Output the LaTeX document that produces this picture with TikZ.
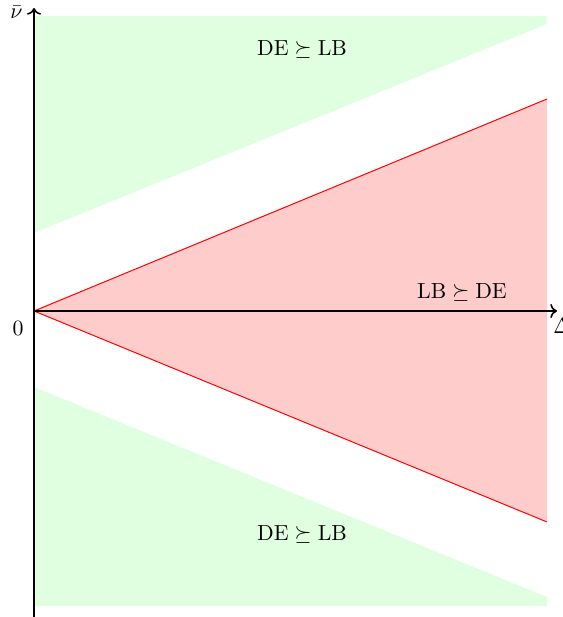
\documentclass[tikz,border=0pt]{standalone}
\usepackage{amsmath,amssymb}
\usetikzlibrary{arrows.meta,positioning}
\definecolor{regiongreen}{RGB}{224,255,224}
\definecolor{regionred}{RGB}{255,204,204}

\begin{document}
\begin{tikzpicture}[
    x=0.5bp,y=0.5bp,
    axis/.style={thick,->},
    region/.style={draw=none},
    edge/.style={red,line width=0.5pt},
    tag/.style={font=\fontsize{10.95}{13}\selectfont,inner sep=1pt}
]
\useasboundingbox (-34,-306) rectangle (529,311);

% regions
\fill[regiongreen] (0,295) -- (513,295) -- (513,287) -- (0,78) -- cycle;
\fill[regiongreen] (0,-76) -- (513,-286) -- (513,-295) -- (0,-295) -- cycle;
\fill[regionred] (0,0) -- (513,212) -- (513,-211) -- cycle;

\coordinate (o) at (0,0);
\coordinate (up) at (513,212);
\coordinate (down) at (513,-211);
\draw[edge] (up) -- (o) -- (down);

% axes
\coordinate (ybot) at (0,-310);
\coordinate (ytop) at (0,303);
\coordinate (xend) at (523,0);
\draw[axis] (ybot) -- (ytop);
\draw[axis] (o) -- (xend);

\node[tag,anchor=east] (nubar) at (-9,299) {$\bar{\nu}$};
\node[tag,anchor=north west] (delta) at (517,-5) {$\Delta$};
\node[tag,anchor=north east] (zero) at (-8,-8) {$0$};

\node[tag] (topgreen) at (268,261) {$\mathrm{DE}\succeq\mathrm{LB}$};
\node[tag] (botgreen) at (268,-224) {$\mathrm{DE}\succeq\mathrm{LB}$};
\node[tag] (midred) at (428,18) {$\mathrm{LB}\succeq\mathrm{DE}$};
\end{tikzpicture}
\end{document}
